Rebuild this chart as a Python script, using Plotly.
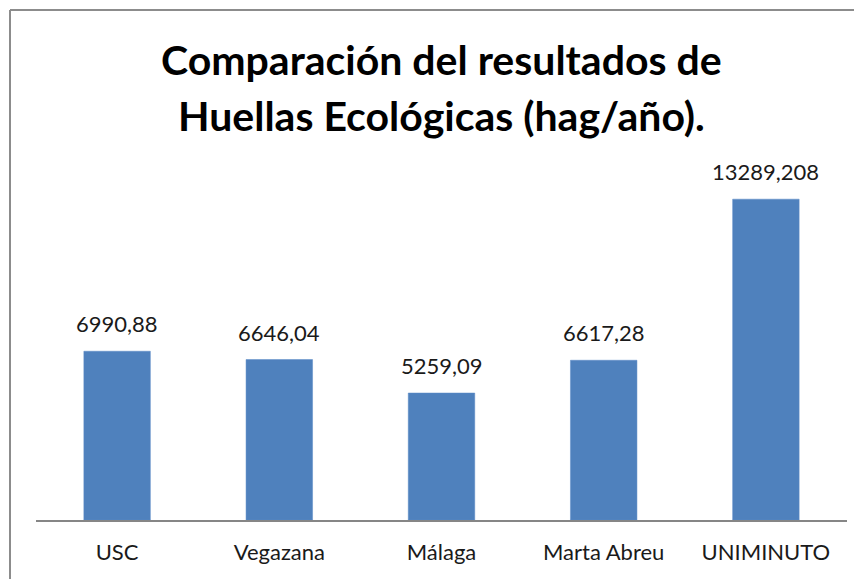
import plotly.graph_objects as go

categories = ["USC", "Vegazana", "Málaga", "Marta Abreu", "UNIMINUTO"]
values = [6990.88, 6646.04, 5259.09, 6617.28, 13289.208]
labels = [str(v).replace(".", ",") for v in values]

title_lines = ["Comparación del resultados de", "Huellas Ecológicas (hag/año)."]

OFF = 8  # page body margin
W, H = 862 - OFF, 579 - OFF
ml, mr, mt, mb = 36 - OFF, 15, 182 - OFF, 59
pw, ph = W - ml - mr, H - mt - mb

def px_x(p):
    return (p - OFF - ml) / pw

def px_y(p):
    return (H - mb - (p - OFF)) / ph

FONT = "Lato, sans-serif"

fig = go.Figure()
fig.add_trace(go.Bar(
    x=categories, y=values,
    marker=dict(color="#4F81BD", line=dict(color="#5B8BC6", width=0.5)),
    width=0.41,
    hoverinfo="skip",
))
for c, v, t in zip(categories, values, labels):
    fig.add_annotation(x=c, y=v, text=t, showarrow=False, yanchor="bottom",
                       yshift=12, font=dict(family=FONT, size=22, color="#1a1a1a"))

# chart-area frame: only the left and top edges fall inside the picture
border = dict(color="#8c8c8c", width=2)
fig.add_shape(type="line", xref="paper", yref="paper",
              x0=px_x(10), x1=px_x(10), y0=px_y(620), y1=px_y(10), line=border, layer="below")
fig.add_shape(type="line", xref="paper", yref="paper",
              x0=px_x(10), x1=px_x(900), y0=px_y(10), y1=px_y(10), line=border, layer="below")

for line, top in zip(title_lines, [33, 89]):
    fig.add_annotation(xref="paper", yref="paper", x=px_x(441), y=px_y(top), yanchor="top",
                       text="<b>" + line + "</b>", showarrow=False,
                       font=dict(family=FONT, size=41, color="#000000"))

fig.update_layout(
    width=W, height=H,
    margin=dict(l=ml, r=mr, t=mt, b=mb),
    paper_bgcolor="white", plot_bgcolor="white",
    showlegend=False,
    xaxis=dict(showline=True, linecolor="#868686", linewidth=1.5, ticks="",
               tickfont=dict(family=FONT, size=22, color="#1a1a1a"), ticklabelstandoff=12),
    yaxis=dict(range=[0, 14000], visible=False, showgrid=False),
)
fig.write_html("out.html")
